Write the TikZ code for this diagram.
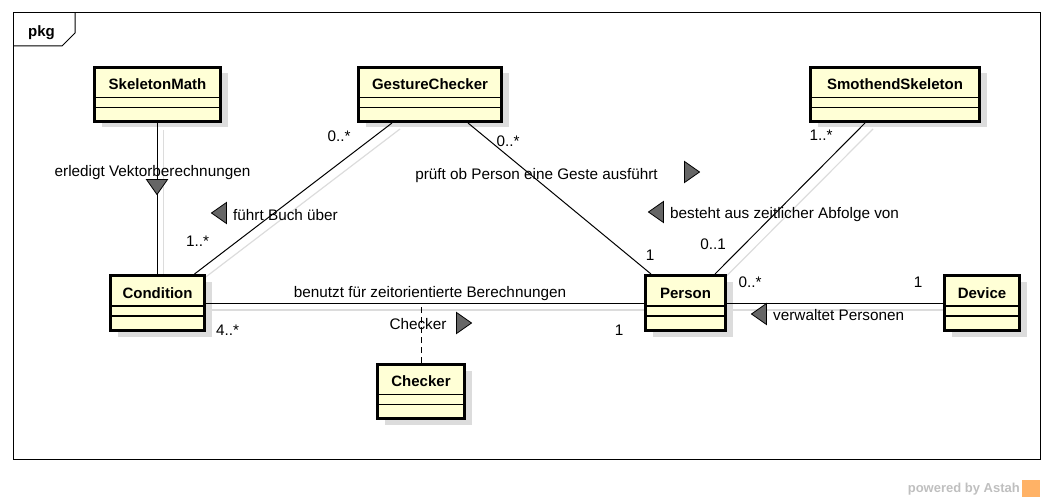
\documentclass[tikz,border=0pt]{standalone}
\usepackage{fontspec}
\setmainfont{Liberation Sans}
\usetikzlibrary{shapes.geometric,shadows,backgrounds}
\definecolor{classfill}{HTML}{FFFFD6}
\definecolor{shadowgray}{HTML}{DCDCDC}

\begin{document}
\begin{tikzpicture}[x=1pt, y=-1pt,
    every node/.style={font=\fontsize{15.3}{18}\selectfont},
    classbox/.style={draw, line width=3pt, fill=classfill, minimum height=54pt,
        text height=11pt, text depth=21pt, inner sep=0pt,
        font=\fontsize{15}{18}\selectfont\bfseries,
        drop shadow={shadow xshift=7pt, shadow yshift=-6pt, fill=shadowgray, opacity=1}},
    assoc/.style={line width=1pt},
    assocshadow/.style={line width=1.2pt, draw=shadowgray},
    navi/.style={isosceles triangle, isosceles triangle apex angle=70, draw=black,
        fill=black!60, line width=0.8pt, inner sep=0pt, minimum height=15pt},
    mult/.style={anchor=base, inner sep=0pt},
]
    % Bounding box
    \useasboundingbox (0,0) rectangle (1054,500);

    % Package frame
    \draw[line width=1pt] (13,13) rectangle (1040,459);
    \draw[line width=1pt] (13,46) -- (62,46) -- (75,33) -- (75,13);
    \node[mult, font=\fontsize{15}{18}\selectfont\bfseries] (pkg) at (41.5,36.5) {pkg};

    % Classes
    \node[classbox, minimum width=126pt] (math) at (157.5,94.5) {SkeletonMath};
    \node[classbox, minimum width=143pt] (ges) at (430,94.5) {GestureChecker};
    \node[classbox, minimum width=169pt] (smooth) at (895,94.5) {SmothendSkeleton};
    \node[classbox, minimum width=94pt, minimum height=55pt] (cond) at (157.5,303) {Condition};
    \node[classbox, minimum width=80pt, minimum height=55pt] (person) at (685.5,303) {Person};
    \node[classbox, minimum width=75pt, minimum height=55pt] (device) at (982,303) {Device};
    \node[classbox, minimum width=87pt] (checker) at (421,391.5) {Checker};

    % Compartments
    \foreach \n in {math,ges,smooth,cond,person,device,checker} {
        \draw[line width=1.2pt] ([yshift=-3pt]\n.west) -- ([yshift=-3pt]\n.east);
        \draw[line width=1.2pt] ([yshift=-13pt]\n.west) -- ([yshift=-13pt]\n.east);
    }

    % Shadows of the associations
    \begin{scope}[on background layer]
        \draw[assocshadow] ([shift={(6,7)}]math.south) -- ([shift={(6,7)}]cond.north);
        \draw[assocshadow] ([shift={(-30,6)}]ges.south) -- ([shift={(43,7)}]cond.north);
        \draw[assocshadow] ([shift={(-22,6)}]smooth.south) -- ([shift={(36,7)}]person.north);
        \draw[assocshadow] ([shift={(0,7)}]cond.east) -- ([shift={(0,7)}]person.west);
        \draw[assocshadow] ([shift={(0,7)}]person.east) -- ([shift={(0,7)}]device.west);
    \end{scope}

    % Associations
    \draw[assoc] (math) -- (cond);
    \draw[assoc] ([xshift=-38pt]ges.south) -- ([xshift=37pt]cond.north);
    \draw[assoc] ([xshift=38pt]ges.south) -- ([xshift=-34.5pt]person.north);
    \draw[assoc] ([xshift=-30pt]smooth.south) -- ([xshift=29.5pt]person.north);
    \draw[assoc] (cond) -- (person);
    \draw[assoc] (person) -- (device);

    % Association class
    \coordinate (cp) at (checker |- cond);
    \draw[assoc, dash pattern=on 6pt off 4pt] (checker) -- (cp);

    % Reading directions
    \node[navi, shape border rotate=270] (navmath) at (157,185) {};
    \node[navi, shape border rotate=180] (navbuch) at (221,213) {};
    \node[navi] (navpruef) at (690,172) {};
    \node[navi, shape border rotate=180] (navfolge) at (658,212) {};
    \node[navi] (navchk) at (462,323) {};
    \node[navi, shape border rotate=180] (navverw) at (761,314) {};

    % Association names
    \node[mult] (lmath) at (152.5,176) {erledigt Vektorberechnungen};
    \node[mult, anchor=base west] (lbuch) at (233,220.5) {führt Buch über};
    \node[mult] (lpruef) at (536.5,179) {prüft ob Person eine Geste ausführt};
    \node[mult, anchor=base west] (lfolge) at (670,218) {besteht aus zeitlicher Abfolge von};
    \node[mult] (lbenutzt) at (430,297) {benutzt für zeitorientierte Berechnungen};
    \node[mult] (lchk) at (418,329) {Checker};
    \node[mult, anchor=base west] (lverw) at (773,320) {verwaltet Personen};

    % Multiplicities
    \node[mult] (m1) at (339,141.7) {0..*};
    \node[mult] (m2) at (197.5,246.7) {1..*};
    \node[mult] (m3) at (508,146.7) {0..*};
    \node[mult] (m4) at (821,140) {1..*};
    \node[mult] (m5) at (713,249) {0..1};
    \node[mult] (m6) at (650,260) {1};
    \node[mult] (m7) at (227.5,335) {4..*};
    \node[mult] (m8) at (619,335) {1};
    \node[mult] (m9) at (750,287) {0..*};
    \node[mult] (m10) at (918,287) {1};

    % Watermark
    \node[anchor=base east, inner sep=0pt, font=\fontsize{13}{15}\selectfont\bfseries,
        text=gray!50] (astah) at (1020,492) {powered by Astah};
    \fill[orange!60] (1022,480) rectangle (1040,497);
\end{tikzpicture}
\end{document}
